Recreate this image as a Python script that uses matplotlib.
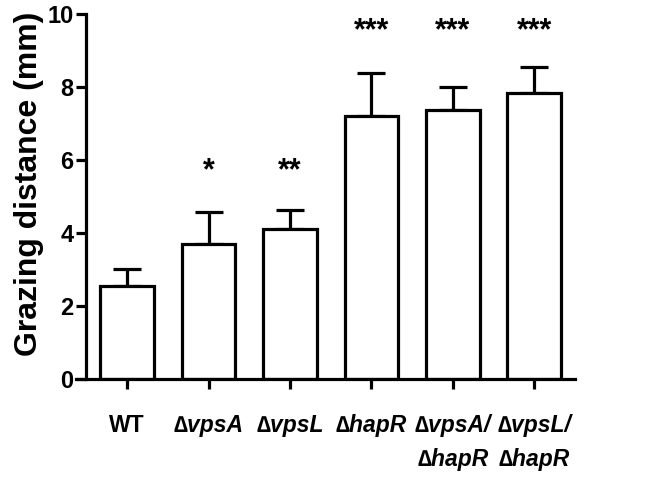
import matplotlib
matplotlib.use("Agg")
import matplotlib.pyplot as plt

categories = ["WT", "\u2206vpsA", "\u2206vpsL", "\u2206hapR", "\u2206vpsA/\n\u2206hapR", "\u2206vpsL/\n\u2206hapR"]
means = [2.55, 3.69, 4.12, 7.20, 7.38, 7.84]
upper_err = [0.45, 0.88, 0.52, 1.17, 0.63, 0.72]
stars = ["", "*", "**", "***", "***", "***"]
star_y = [0, 5.68, 5.68, 9.52, 9.52, 9.52]
yticks = [0, 2, 4, 6, 8, 10]

plt.rcParams['font.family'] = ['Liberation Sans', 'DejaVu Sans']

fig = plt.figure(figsize=(6.47, 4.79), dpi=100)
ax = fig.add_axes([0.1173, 0.2088, 0.7714, 0.762])

x = list(range(len(categories)))
lw = 2.3
ax.bar(x, means, width=0.66, color="white", edgecolor="black", linewidth=lw, zorder=2)
ax.errorbar(x, means, yerr=[[0] * len(x), upper_err], fmt="none", ecolor="black",
            elinewidth=lw, capsize=10, capthick=lw, zorder=1)

for xi, s, sy in zip(x, stars, star_y):
    if s:
        ax.text(xi, sy, s, ha="center", va="center", fontsize=22, fontweight="bold")

ax.set_xlim(-0.63, 5.5)
ax.set_ylim(0, 10)
ax.spines['left'].set_bounds(0, 10)
ax.spines['left'].set_position(('data', -0.5))
ax.spines['top'].set_visible(False)
ax.spines['right'].set_visible(False)
for sp in ['left', 'bottom']:
    ax.spines[sp].set_linewidth(lw)

ax.set_yticks(yticks)
ax.set_yticklabels([str(v) for v in yticks], fontsize=17, fontweight="bold")
ax.set_xticks(x)
ax.set_xticklabels(categories, fontsize=16.5, fontweight="bold")
for i, lab in enumerate(ax.get_xticklabels()):
    if i > 0:
        lab.set_fontstyle("italic")
    lab.set_multialignment("center")
    lab.set_linespacing(1.58)
ax.tick_params(axis='y', direction='out', length=7, width=lw, pad=2.5)
ax.tick_params(axis='x', direction='out', length=7, width=lw, pad=18.5)

ax.set_ylabel("Grazing distance (mm)", fontsize=23, fontweight="bold")
ax.yaxis.label.set_va("center")
ax.yaxis.set_label_coords(-0.094, 0.534)

fig.savefig("out.png", dpi=100)
